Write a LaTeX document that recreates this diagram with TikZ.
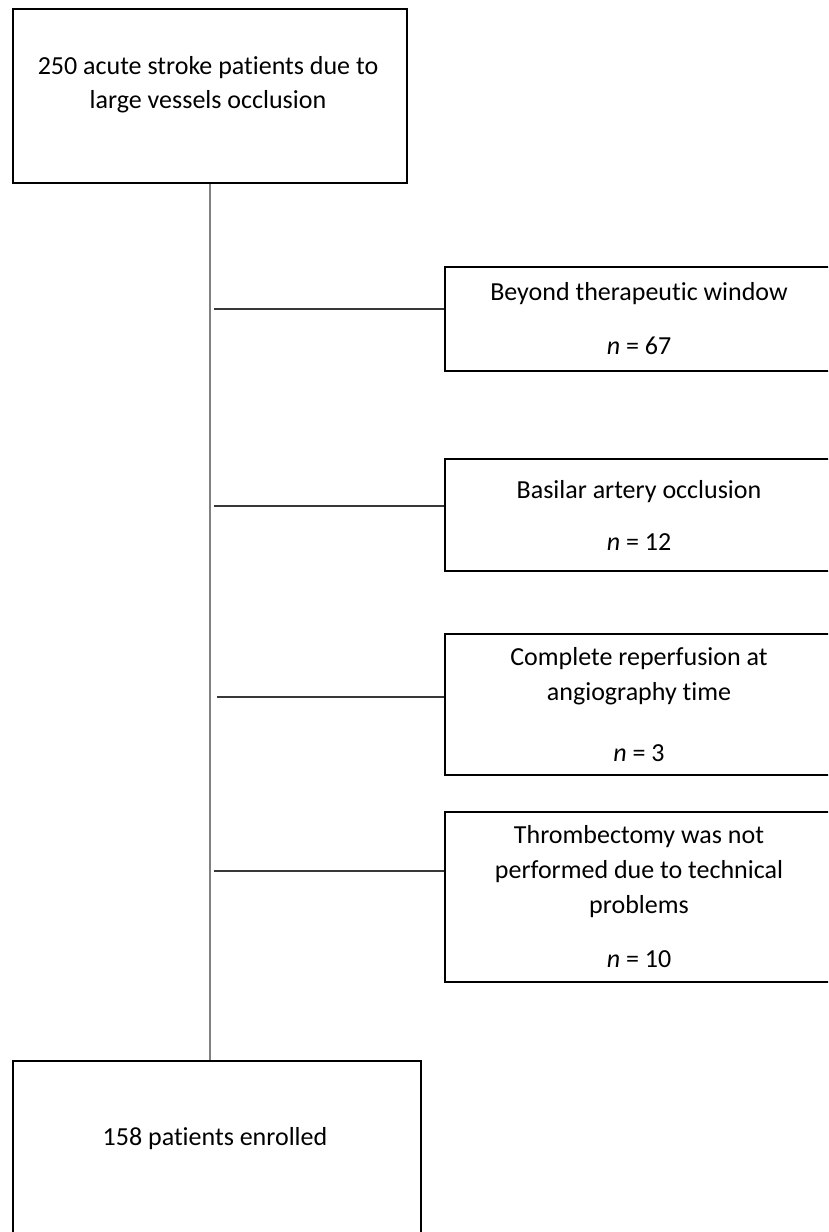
\documentclass[tikz,border=0pt]{standalone}
\usepackage{fontspec}
\setmainfont{Carlito}[Ligatures=NoCommon]
\usepackage{tikz}
\usetikzlibrary{positioning}
\definecolor{spinegray}{rgb}{0.5, 0.5, 0.5}
\definecolor{branchgray}{rgb}{0.22, 0.22, 0.22}

\begin{document}
\begin{tikzpicture}[x=1pt, y=-1pt,
    box/.style={draw, line width=2.6pt, inner sep=0pt, align=center, font=\fontsize{26}{35}\selectfont},
    txt/.style={inner sep=0pt, align=center, font=\fontsize{26}{34}\selectfont},
    spine/.style={line width=1.7pt, color=spinegray},
    branch/.style={line width=1.3pt, color=branchgray}]
%
\useasboundingbox (0,0) rectangle (828,1232);
\clip (0,0) rectangle (828,1232);

%
\node[box, minimum width=394pt, minimum height=174pt](total_box) at (210,96) {};
\node[txt](total_text) at (208,85) {250 acute stroke patients due to\\large vessels occlusion};

\node[box, minimum width=408pt, minimum height=240pt](enrolled_box) at (217,1181) {};
\node[txt](enrolled_text) at (215,1139) {158 patients enrolled};

%
\node[box, minimum width=388pt, minimum height=104pt](window_box) at (639,319) {
    Beyond therapeutic window\\[19pt]
    \textit{n} = 67
};
\node[box, minimum width=388pt, minimum height=112pt](basilar_box) at (639,515) {
    Basilar artery occlusion\\[17pt]
    \textit{n} = 12
};
\node[box, minimum width=388pt, minimum height=141pt](reperf_box) at (639,704.5) {
    Complete reperfusion at\\
    angiography time\\[26pt]
    \textit{n} = 3
};
\node[box, minimum width=388pt, minimum height=170pt](technical_box) at (639,897) {
    Thrombectomy was not\\
    performed due to technical\\
    problems\\[19pt]
    \textit{n} = 10
};

%
\draw[spine] (total_box.south) -- (total_box.south |- enrolled_box.north);

%
\coordinate (window_pt) at (214,309);
\coordinate (basilar_pt) at (214,506);
\coordinate (reperf_pt) at (217,697);
\coordinate (technical_pt) at (214,871);

\draw[branch] (window_pt) -- (window_pt -| window_box.west);
\draw[branch] (basilar_pt) -- (basilar_pt -| basilar_box.west);
\draw[branch] (reperf_pt) -- (reperf_pt -| reperf_box.west);
\draw[branch] (technical_pt) -- (technical_pt -| technical_box.west);

\end{tikzpicture}
\end{document}
